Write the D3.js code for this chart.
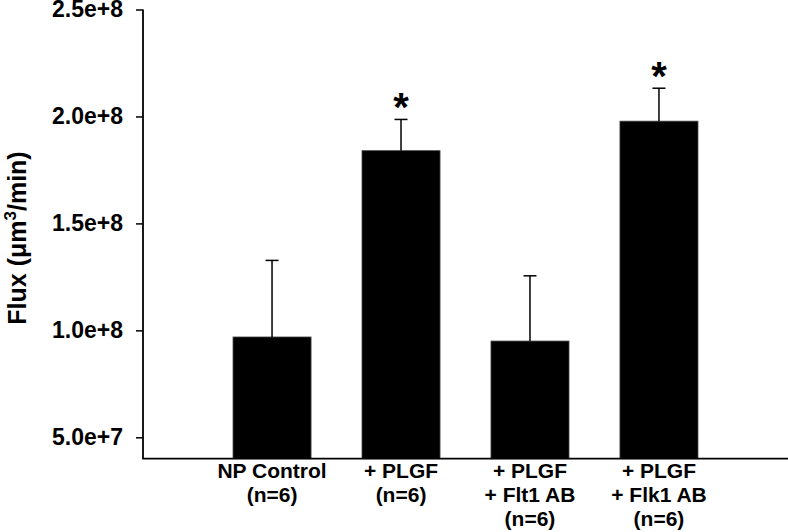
<!DOCTYPE html>
<html>
<head>
<meta charset="utf-8">
<script src="https://cdn.jsdelivr.net/npm/d3@7"></script>
<style>
  html, body { margin: 0; padding: 0; background: #fff; }
  svg { display: block; }
  text { font-family: "Liberation Sans", Arial, sans-serif; font-weight: bold; fill: #000; }
</style>
</head>
<body>
<script>
// ---- data ----
const categories = ["NP Control", "+ PLGF", "+ PLGF + Flt1 AB", "+ PLGF + Flk1 AB"];
const labelLines = [["NP Control", "(n=6)"], ["+ PLGF", "(n=6)"], ["+ PLGF", "+ Flt1 AB", "(n=6)"], ["+ PLGF", "+ Flk1 AB", "(n=6)"]];
const means = [0.969e8, 1.840e8, 0.950e8, 1.978e8];
const errors = [0.358e8, 0.146e8, 0.305e8, 0.154e8];
const significant = [false, true, false, true];
const yTicks = [5e7, 1e8, 1.5e8, 2e8, 2.5e8];
const yTickLabels = ["5.0e+7", "1.0e+8", "1.5e+8", "2.0e+8", "2.5e+8"];
const yDomain = [4e7, 2.5e8];

(function () {
const W = 788, H = 532;
const mLeft = 143, mRight = 788, mTop = 9.5, mBottom = 458.7;

const svg = d3.select("body").append("svg").attr("width", W).attr("height", H);

const x = d3.scaleBand().domain(categories).range([mLeft, mRight]).paddingInner(0.395).paddingOuter(0.698);
const y = d3.scaleLinear().domain(yDomain).range([mBottom, mTop]);

// bars
svg.append("g").selectAll("rect").data(categories).join("rect")
  .attr("x", d => x(d))
  .attr("width", x.bandwidth())
  .attr("y", (d, i) => y(means[i]))
  .attr("height", (d, i) => y(yDomain[0]) - y(means[i]))
  .attr("fill", "#000")
  .attr("stroke", "#444")
  .attr("stroke-width", 0.8);

// error bars (upper only)
const eg = svg.append("g").attr("stroke", "#000").attr("stroke-width", 1.5);
categories.forEach((c, i) => {
  const cx = x(c) + x.bandwidth() / 2;
  eg.append("line").attr("x1", cx).attr("x2", cx).attr("y1", y(means[i])).attr("y2", y(means[i] + errors[i]));
  eg.append("line").attr("x1", cx - 6.5).attr("x2", cx + 6.5).attr("y1", y(means[i] + errors[i])).attr("y2", y(means[i] + errors[i]));
  if (significant[i]) {
    svg.append("text").attr("x", cx).attr("y", y(means[i] + errors[i]) + 2)
      .attr("text-anchor", "middle").style("font-size", "40px").text("*");
  }
});

// y axis
const yAxis = d3.axisLeft(y).tickValues(yTicks).tickFormat((d, i) => yTickLabels[i]).tickSize(7).tickPadding(13);
const ga = svg.append("g").attr("transform", `translate(${mLeft},0)`).call(yAxis);
ga.select(".domain").remove();
ga.selectAll(".tick line").attr("stroke", "#000").attr("stroke-width", 1.5);
ga.selectAll(".tick text").style("font-size", "23px").style("font-family", "'Liberation Sans', Arial, sans-serif").attr("fill", "#000");

// axis lines
svg.append("line").attr("x1", mLeft).attr("x2", mLeft).attr("y1", y(yDomain[1])).attr("y2", y(yDomain[0]))
  .attr("stroke", "#000").attr("stroke-width", 1.8);
svg.append("line").attr("x1", mLeft - 0.9).attr("x2", mRight).attr("y1", y(yDomain[0])).attr("y2", y(yDomain[0]))
  .attr("stroke", "#000").attr("stroke-width", 1.8);

// x labels
categories.forEach((c, i) => {
  const cx = x(c) + x.bandwidth() / 2;
  const t = svg.append("text").attr("text-anchor", "middle").style("font-size", "21px");
  labelLines[i].forEach((ln, j) => {
    t.append("tspan").attr("x", cx).attr("y", 477.5 + j * 24).text(ln);
  });
});

// y title
const yt = svg.append("text").attr("transform", "translate(25.5,238) rotate(-90)")
  .attr("text-anchor", "middle").style("font-size", "25px");
yt.append("tspan").text("Flux (\u03bcm");
yt.append("tspan").attr("dy", -10).style("font-size", "17px").text("3");
yt.append("tspan").attr("dy", 10).text("/min)");
})();
</script>
</body>
</html>
